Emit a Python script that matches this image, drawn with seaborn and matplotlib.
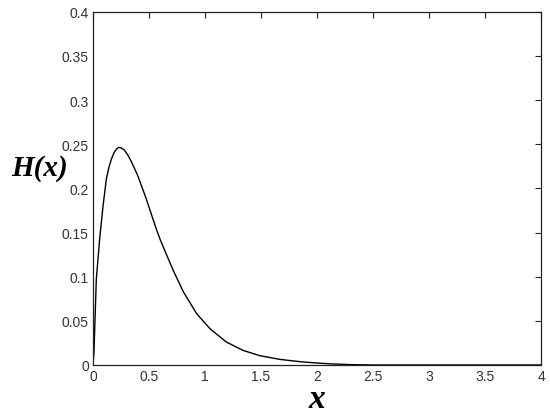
import matplotlib
matplotlib.use("Agg")
import matplotlib.pyplot as plt
import seaborn as sns
import pandas as pd

# values
x_vals = [0.0, 0.009, 0.03, 0.06, 0.09, 0.12, 0.145, 0.164, 0.19, 0.21, 0.23, 0.25,
          0.28, 0.31, 0.34, 0.40, 0.476, 0.565, 0.60, 0.663, 0.717, 0.806, 0.926,
          1.045, 1.19, 1.34, 1.49, 1.67, 1.85, 2.0, 2.13, 2.3, 2.5, 3.0, 3.5, 4.0]
h_vals = [0.0, 0.014, 0.097, 0.143, 0.18, 0.211, 0.225, 0.233, 0.241, 0.2445, 0.2465, 0.246,
          0.2435, 0.238, 0.231, 0.2145, 0.188, 0.154, 0.142, 0.123, 0.107, 0.083, 0.058,
          0.041, 0.026, 0.0165, 0.0105, 0.0063, 0.0037, 0.0022, 0.0012, 0.0004, 0.0, 0.0, 0.0, 0.0]

x_ticks = [0, 0.5, 1, 1.5, 2, 2.5, 3, 3.5, 4]
x_tick_labels = ["0", "0.5", "1", "1.5", "2", "2.5", "3", "3.5", "4"]
y_ticks = [0, 0.05, 0.1, 0.15, 0.2, 0.25, 0.3, 0.35, 0.4]
y_tick_labels = ["0", "0.05", "0.1", "0.15", "0.2", "0.25", "0.3", "0.35", "0.4"]

df = pd.DataFrame({"x": x_vals, "H": h_vals})

sns.set_style("white")
plt.rcParams["font.family"] = ["Liberation Sans", "DejaVu Sans"]

fig = plt.figure(figsize=(5.5, 4.14), dpi=100)
ax = fig.add_axes([0.169, 0.116, 0.815, 0.853])

sns.lineplot(data=df, x="x", y="H", color="black", linewidth=1.0, ax=ax)

ax.set_xlim(0, 4)
ax.set_ylim(0, 0.4)
ax.set_xticks(x_ticks)
ax.set_xticklabels(x_tick_labels)
ax.set_yticks(y_ticks)
ax.set_yticklabels(y_tick_labels)
ax.tick_params(direction="in", length=4, width=0.8, colors="#222222",
               labelsize=10, top=True, right=True, pad=3)
ax.tick_params(axis="both", labelcolor="#333333")
for s in ax.spines.values():
    s.set_color("#222222")
    s.set_linewidth(0.9)
    s.set_visible(True)

ax.set_xlabel("x", fontsize=24, fontweight="bold", fontstyle="italic",
              family="Liberation Serif", color="black", labelpad=0)
ax.set_ylabel("H(x)", fontsize=21, fontweight="bold", fontstyle="italic",
              family="Liberation Serif", color="black", rotation=0, labelpad=2)
ax.yaxis.set_label_coords(-0.118, 0.52)

fig.savefig("out.png", dpi=100)
